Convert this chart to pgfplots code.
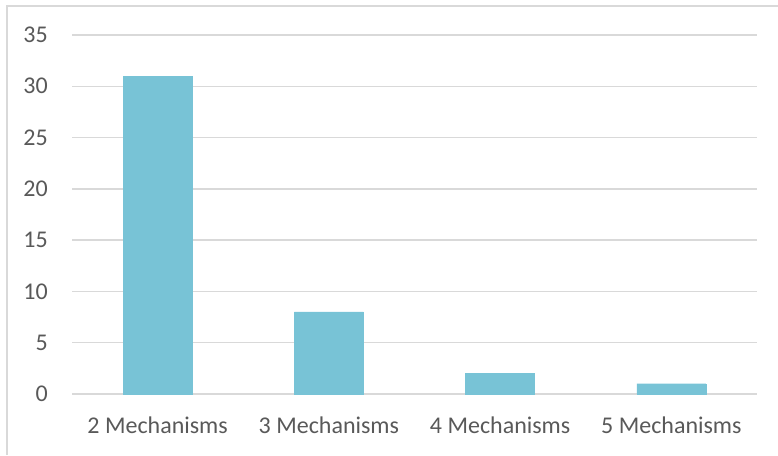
\documentclass[border=0pt]{standalone}
\usepackage{pgfplots}
\pgfplotsset{compat=1.18}
\usepackage{fontspec}
\setmainfont{Carlito}
\definecolor{barc}{RGB}{120,195,214}
\definecolor{gridc}{RGB}{217,217,217}
\definecolor{txt}{RGB}{89,89,89}
\begin{document}
\begin{tikzpicture}[x=1pt,y=1pt]
\useasboundingbox (0,0) rectangle (778,455);
\draw[gridc, line width=1.3pt] (7,0) -- (7,449) -- (778,449);
\begin{axis}[
  at={(72pt,61pt)}, anchor=south west,
  width=685pt, height=359pt, scale only axis,
  ymin=0, ymax=35, ytick={0,5,...,35},
  xmin=-0.5, xmax=3.5, xtick={0,1,2,3},
  xticklabels={2 Mechanisms,3 Mechanisms,4 Mechanisms,5 Mechanisms},
  ybar, bar width=69pt,
  axis line style={draw=none},
  major tick length=0pt,
  ymajorgrids, grid style={gridc, line width=1.3pt},
  tick label style={font=\fontsize{24}{28}\selectfont, text=txt},
  /pgf/number format/assume math mode=true,
  yticklabel style={anchor=east, inner sep=0pt, xshift=-24pt},
  xticklabel style={anchor=base, yshift=-39pt},
]
\addplot[fill=barc, draw=barc] coordinates {(0,31) (1,8) (2,2) (3,1)};
\end{axis}
\end{tikzpicture}
\end{document}
